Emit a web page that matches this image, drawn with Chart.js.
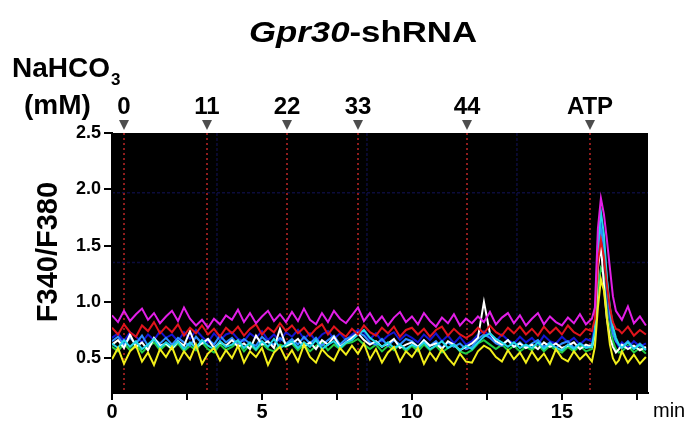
<!DOCTYPE html>
<html>
<head>
<meta charset="utf-8">
<script src="https://cdn.jsdelivr.net/npm/chart.js@4.4.1/dist/chart.umd.min.js"></script>
<style>
  html, body { margin: 0; padding: 0; background: #fff; }
  #wrap { width: 690px; height: 423px; position: relative; }
</style>
</head>
<body>
<div id="wrap"><canvas id="chart"></canvas></div>
<script>
// ─── DATA ──────────────────────────────────────────────────
// time (min), finer around the ATP peak
const times = [
  0, 0.2, 0.4, 0.6, 0.8, 1.0, 1.2, 1.4, 1.6, 1.8,
  2.0, 2.2, 2.4, 2.6, 2.8, 3.0, 3.2, 3.4, 3.6, 3.8,
  4.0, 4.2, 4.4, 4.6, 4.8, 5.0, 5.2, 5.4, 5.6, 5.8,
  6.0, 6.2, 6.4, 6.6, 6.8, 7.0, 7.2, 7.4, 7.6, 7.8,
  8.0, 8.2, 8.4, 8.6, 8.8, 9.0, 9.2, 9.4, 9.6, 9.8,
  10.0, 10.2, 10.4, 10.6, 10.8, 11.0, 11.2, 11.4, 11.6, 11.8,
  12.0, 12.2, 12.4, 12.6, 12.8, 13.0, 13.2, 13.4, 13.6, 13.8,
  14.0, 14.2, 14.4, 14.6, 14.8, 15.0, 15.2, 15.4, 15.6, 15.8,
  16.0, 16.1, 16.2, 16.3, 16.4, 16.5, 16.6, 16.7, 16.8, 16.9,
  17.0, 17.2, 17.4, 17.6, 17.8
];

const magenta = [
  0.88, 0.82, 0.92, 0.83, 0.89, 0.94, 0.84, 0.90, 0.81, 0.87,
  0.92, 0.83, 0.95, 0.85, 0.79, 0.84, 0.77, 0.85, 0.80, 0.88,
  0.84, 0.93, 0.82, 0.90, 0.81, 0.87, 0.92, 0.83, 0.89, 0.82,
  0.91, 0.83, 0.94, 0.84, 0.80, 0.90, 0.82, 0.92, 0.85, 0.81,
  0.88, 0.95, 0.83, 0.90, 0.81, 0.87, 0.79, 0.86, 0.91, 0.82,
  0.87, 0.80, 0.90, 0.83, 0.78, 0.86, 0.81, 0.89, 0.79, 0.85,
  0.81, 0.87, 0.82, 0.91, 0.80, 0.86, 0.90, 0.81, 0.88, 0.79,
  0.85, 0.90, 0.80, 0.87, 0.82, 0.79, 0.86, 0.81, 0.89, 0.80,
  0.85, 0.95, 1.65, 1.92, 1.78, 1.55, 1.30, 1.05, 0.92, 0.88,
  0.84, 0.96, 0.81, 0.87, 0.79
];

const red = [
  0.77, 0.71, 0.80, 0.73, 0.69, 0.79, 0.74, 0.82, 0.72, 0.78,
  0.73, 0.80, 0.70, 0.77, 0.72, 0.79, 0.71, 0.76, 0.69, 0.77,
  0.72, 0.78, 0.70, 0.76, 0.80, 0.71, 0.77, 0.73, 0.81, 0.74,
  0.79, 0.72, 0.77, 0.70, 0.76, 0.80, 0.71, 0.78, 0.73, 0.69,
  0.76, 0.71, 0.79, 0.73, 0.70, 0.77, 0.72, 0.78, 0.69, 0.75,
  0.77, 0.71, 0.76, 0.69, 0.75, 0.78, 0.70, 0.76, 0.71, 0.68,
  0.71, 0.77, 0.72, 0.79, 0.73, 0.70, 0.77, 0.72, 0.78, 0.71,
  0.76, 0.70, 0.78, 0.72, 0.77, 0.71, 0.79, 0.73, 0.70, 0.76,
  0.74, 0.85, 1.35, 1.55, 1.40, 1.15, 0.95, 0.82, 0.76, 0.75,
  0.72, 0.78, 0.70, 0.75, 0.71
];

const blue = [
  0.68, 0.72, 0.65, 0.73, 0.69, 0.64, 0.71, 0.66, 0.74, 0.68,
  0.71, 0.65, 0.73, 0.67, 0.75, 0.69, 0.64, 0.72, 0.66, 0.71,
  0.73, 0.67, 0.65, 0.72, 0.68, 0.74, 0.66, 0.71, 0.65, 0.73,
  0.69, 0.75, 0.67, 0.72, 0.65, 0.71, 0.74, 0.67, 0.72, 0.66,
  0.71, 0.75, 0.73, 0.67, 0.72, 0.65, 0.70, 0.73, 0.66, 0.71,
  0.68, 0.64, 0.71, 0.66, 0.72, 0.65, 0.70, 0.63, 0.69, 0.62,
  0.65, 0.71, 0.74, 0.70, 0.65, 0.71, 0.66, 0.63, 0.69, 0.64,
  0.68, 0.62, 0.70, 0.65, 0.63, 0.69, 0.64, 0.68, 0.62, 0.67,
  0.65, 0.80, 1.55, 1.72, 1.45, 1.10, 0.85, 0.72, 0.65, 0.60,
  0.64, 0.59, 0.65, 0.60, 0.63
];

const skyblue = [
  0.65, 0.69, 0.62, 0.68, 0.63, 0.70, 0.61, 0.67, 0.63, 0.68,
  0.62, 0.68, 0.64, 0.61, 0.69, 0.63, 0.67, 0.62, 0.70, 0.64,
  0.68, 0.62, 0.67, 0.63, 0.61, 0.69, 0.64, 0.62, 0.68, 0.63,
  0.67, 0.62, 0.69, 0.63, 0.68, 0.61, 0.66, 0.70, 0.62, 0.67,
  0.69, 0.73, 0.70, 0.64, 0.62, 0.67, 0.61, 0.66, 0.62, 0.67,
  0.65, 0.60, 0.66, 0.61, 0.65, 0.59, 0.64, 0.60, 0.63, 0.58,
  0.60, 0.67, 0.71, 0.68, 0.63, 0.61, 0.66, 0.60, 0.64, 0.59,
  0.63, 0.66, 0.60, 0.64, 0.59, 0.63, 0.65, 0.59, 0.63, 0.60,
  0.62, 0.72, 1.40, 1.65, 1.50, 1.20, 0.90, 0.72, 0.65, 0.62,
  0.60, 0.65, 0.59, 0.63, 0.58
];

const cyan = [
  0.63, 0.59, 0.66, 0.60, 0.65, 0.58, 0.62, 0.67, 0.59, 0.64,
  0.60, 0.65, 0.58, 0.64, 0.59, 0.66, 0.61, 0.58, 0.65, 0.60,
  0.62, 0.66, 0.59, 0.64, 0.58, 0.65, 0.60, 0.67, 0.59, 0.62,
  0.65, 0.59, 0.64, 0.60, 0.66, 0.58, 0.62, 0.65, 0.59, 0.64,
  0.66, 0.71, 0.75, 0.68, 0.64, 0.60, 0.64, 0.59, 0.62, 0.58,
  0.62, 0.59, 0.64, 0.58, 0.61, 0.65, 0.59, 0.62, 0.57, 0.61,
  0.58, 0.64, 0.69, 0.72, 0.67, 0.64, 0.60, 0.64, 0.59, 0.62,
  0.59, 0.64, 0.58, 0.63, 0.59, 0.57, 0.62, 0.58, 0.63, 0.59,
  0.60, 0.75, 1.50, 1.80, 1.60, 1.20, 0.95, 0.78, 0.68, 0.62,
  0.59, 0.64, 0.58, 0.62, 0.57
];

const green = [
  0.60, 0.56, 0.63, 0.57, 0.62, 0.55, 0.60, 0.64, 0.57, 0.62,
  0.58, 0.63, 0.56, 0.61, 0.57, 0.64, 0.58, 0.55, 0.62, 0.57,
  0.60, 0.64, 0.56, 0.62, 0.57, 0.63, 0.58, 0.56, 0.62, 0.60,
  0.63, 0.57, 0.62, 0.56, 0.61, 0.64, 0.57, 0.62, 0.58, 0.63,
  0.64, 0.67, 0.62, 0.58, 0.62, 0.56, 0.61, 0.57, 0.62, 0.56,
  0.61, 0.56, 0.62, 0.57, 0.61, 0.55, 0.59, 0.62, 0.56, 0.54,
  0.57, 0.63, 0.66, 0.62, 0.58, 0.62, 0.57, 0.61, 0.56, 0.60,
  0.57, 0.62, 0.56, 0.61, 0.57, 0.55, 0.60, 0.56, 0.61, 0.56,
  0.58, 0.70, 1.10, 1.30, 1.25, 1.00, 0.80, 0.65, 0.58, 0.55,
  0.56, 0.61, 0.55, 0.59, 0.54
];

const yellow = [
  0.49, 0.59, 0.45, 0.56, 0.61, 0.47, 0.55, 0.44, 0.58, 0.51,
  0.60, 0.46, 0.56, 0.49, 0.62, 0.45, 0.54, 0.59, 0.48, 0.57,
  0.50, 0.61, 0.46, 0.56, 0.51, 0.59, 0.44, 0.55, 0.60, 0.49,
  0.57, 0.47, 0.62, 0.51, 0.46, 0.58, 0.52, 0.48, 0.59, 0.53,
  0.61, 0.54, 0.63, 0.49, 0.58, 0.46, 0.55, 0.60, 0.47, 0.56,
  0.51, 0.59, 0.45, 0.55, 0.48, 0.58, 0.50, 0.44, 0.54, 0.47,
  0.46, 0.56, 0.61, 0.58, 0.51, 0.47, 0.57, 0.49, 0.55, 0.46,
  0.56, 0.48, 0.54, 0.45, 0.58, 0.50, 0.47, 0.56, 0.49, 0.54,
  0.47, 0.60, 0.95, 1.20, 1.10, 0.85, 0.62, 0.50, 0.45, 0.48,
  0.56, 0.46, 0.53, 0.45, 0.51
];

const white = [
  0.62, 0.66, 0.59, 0.71, 0.60, 0.64, 0.57, 0.68, 0.61, 0.63,
  0.58, 0.65, 0.61, 0.74, 0.60, 0.63, 0.67, 0.59, 0.64, 0.61,
  0.66, 0.60, 0.63, 0.58, 0.70, 0.62, 0.65, 0.59, 0.76, 0.61,
  0.63, 0.67, 0.60, 0.64, 0.58, 0.66, 0.62, 0.69, 0.60, 0.64,
  0.68, 0.72, 0.66, 0.62, 0.65, 0.60, 0.63, 0.67, 0.59, 0.62,
  0.64, 0.60, 0.66, 0.61, 0.63, 0.58, 0.65, 0.62, 0.57, 0.60,
  0.63, 0.68, 1.00, 0.72, 0.65, 0.62, 0.66, 0.60, 0.63, 0.59,
  0.62, 0.58, 0.64, 0.60, 0.63, 0.59, 0.61, 0.64, 0.58, 0.62,
  0.60, 0.70, 1.30, 1.50, 1.15, 0.85, 0.68, 0.60, 0.55, 0.58,
  0.62, 0.58, 0.61, 0.57, 0.60
];

// stimulus marks (min) and their labels
const stimTimes = [0.4, 3.17, 5.83, 8.2, 11.83, 15.93];
const stimLabels = ['0', '11', '22', '33', '44', 'ATP'];

// faint navy grid of the imaging software
const bgGridX = [3.5, 8.5, 13.5];
const bgGridY = [1.97, 1.35];

const xLabelled = [0, 5, 10, 15];

// ─── PLUGIN ───────────────────────────────────────────────
const FONT = "'Liberation Sans', Arial, sans-serif";

const decor = {
  id: 'decor',
  beforeDraw(chart) {
    const { ctx, chartArea: a, scales: { x, y } } = chart;
    ctx.save();
    ctx.fillStyle = '#000';
    ctx.fillRect(a.left, a.top, a.right - a.left, a.bottom - a.top);

    ctx.strokeStyle = '#0c0c3c';
    ctx.lineWidth = 1.5;
    ctx.setLineDash([3, 2]);
    bgGridX.forEach(v => {
      const px = x.getPixelForValue(v);
      ctx.beginPath(); ctx.moveTo(px, a.top); ctx.lineTo(px, a.bottom); ctx.stroke();
    });
    bgGridY.forEach(v => {
      const py = y.getPixelForValue(v);
      ctx.beginPath(); ctx.moveTo(a.left, py); ctx.lineTo(a.right, py); ctx.stroke();
    });

    ctx.strokeStyle = '#8e1c1c';
    ctx.lineWidth = 2;
    ctx.setLineDash([2, 3]);
    stimTimes.forEach(v => {
      const px = Math.round(x.getPixelForValue(v));
      ctx.beginPath(); ctx.moveTo(px, a.top); ctx.lineTo(px, a.bottom); ctx.stroke();
    });
    ctx.restore();
  },
  afterDraw(chart) {
    const { ctx, chartArea: a, scales: { x } } = chart;
    ctx.save();
    ctx.fillStyle = '#000';

    // triangles + concentration labels
    stimTimes.forEach((v, i) => {
      const px = Math.round(x.getPixelForValue(v));
      ctx.fillStyle = '#4d4d4d';
      ctx.beginPath();
      ctx.moveTo(px - 5, a.top - 13);
      ctx.lineTo(px + 5, a.top - 13);
      ctx.lineTo(px, a.top - 3);
      ctx.closePath();
      ctx.fill();
      ctx.fillStyle = '#000';
      ctx.font = `bold 24px ${FONT}`;
      ctx.textAlign = 'center';
      ctx.textBaseline = 'alphabetic';
      ctx.fillText(stimLabels[i], px, 114);
    });

    // NaHCO3 / (mM)
    ctx.textAlign = 'left';
    ctx.font = `bold 28px ${FONT}`;
    ctx.fillText('NaHCO', 12, 77);
    const wNa = ctx.measureText('NaHCO').width;
    ctx.font = `bold 17px ${FONT}`;
    ctx.fillText('3', 12 + wNa + 1, 85);
    ctx.font = `bold 28px ${FONT}`;
    ctx.fillText('(mM)', 24, 114);

    // title, slightly stretched like the original
    ctx.font = `italic bold 30px ${FONT}`;
    const w1 = ctx.measureText('Gpr30').width;
    ctx.font = `bold 30px ${FONT}`;
    const w2 = ctx.measureText('-shRNA').width;
    const sx = 1.16;
    ctx.save();
    ctx.translate(363 - (w1 + w2) * sx / 2, 42);
    ctx.scale(sx, 1);
    ctx.font = `italic bold 30px ${FONT}`;
    ctx.fillText('Gpr30', 0, 0);
    ctx.font = `bold 30px ${FONT}`;
    ctx.fillText('-shRNA', w1, 0);
    ctx.restore();

    // y title
    ctx.save();
    ctx.translate(57, 252);
    ctx.rotate(-Math.PI / 2);
    ctx.textAlign = 'center';
    ctx.font = `bold 29px ${FONT}`;
    ctx.fillText('F340/F380', 0, 0);
    ctx.restore();

    // x unit
    ctx.font = `20px ${FONT}`;
    ctx.textAlign = 'left';
    ctx.textBaseline = 'middle';
    ctx.fillText('min', 653, 411);
    ctx.restore();
  }
};

// ─── CHART ────────────────────────────────────────────────
function trace(vals, color) {
  return {
    data: times.map((t, i) => ({ x: t, y: vals[i] })),
    borderColor: color,
    borderWidth: 2,
    pointRadius: 0,
    tension: 0
  };
}

new Chart(document.getElementById('chart'), {
  type: 'line',
  data: {
    datasets: [
      trace(magenta, '#e21ee6'),
      trace(yellow, '#f2ee1a'),
      trace(red, '#e0141c'),
      trace(cyan, '#22d8e8'),
      trace(white, '#ffffff'),
      trace(skyblue, '#2f8cff'),
      trace(blue, '#1414d2'),
      trace(green, '#22cc44')
    ]
  },
  options: {
    responsive: true,
    maintainAspectRatio: false,
    animation: false,
    layout: { padding: { left: 0, right: 42, top: 133, bottom: 0 } },
    plugins: { legend: { display: false }, tooltip: { enabled: false } },
    scales: {
      x: {
        type: 'linear',
        min: 0,
        max: 17.87,
        afterFit: s => { s.height = 30; },
        border: { color: '#000', width: 2 },
        grid: { drawOnChartArea: false, tickLength: 7, color: '#000', lineWidth: 2 },
        ticks: {
          stepSize: 2.5,
          includeBounds: false,
          autoSkip: false,
          maxRotation: 0,
          padding: 0,
          color: '#000',
          font: { family: FONT, size: 20, weight: 'bold' },
          callback: v => (xLabelled.includes(v) ? String(v) : '')
        }
      },
      y: {
        min: 0.19,
        max: 2.5,
        afterFit: s => { s.width = 112; },
        border: { color: '#000', width: 2 },
        grid: { drawOnChartArea: false, tickLength: 8, color: '#000', lineWidth: 2 },
        ticks: {
          stepSize: 0.5,
          includeBounds: false,
          padding: 3,
          color: '#000',
          font: { family: FONT, size: 18, weight: 'bold' },
          callback: v => v.toFixed(1)
        }
      }
    }
  },
  plugins: [decor]
});
</script>
</body>
</html>
